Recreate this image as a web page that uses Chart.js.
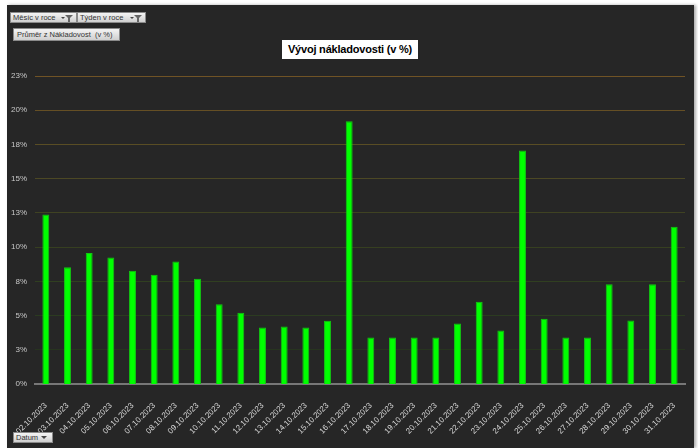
<!DOCTYPE html>
<html>
<head>
<meta charset="utf-8">
<script src="https://cdn.jsdelivr.net/npm/chart.js@4.4.1/dist/chart.umd.min.js"></script>
<style>
  html, body { margin: 0; padding: 0; background: #fff; }
  body { width: 698px; height: 448px; position: relative; overflow: hidden; font-family: "Liberation Sans", Arial, sans-serif; }
  #panel { position: absolute; left: 7px; top: 5px; width: 687px; height: 443px; background: #262626; box-shadow: 2px 0 3px #aaa; }
  #graf { position: absolute; left: 0; top: 0; }
  .btn { position: absolute; box-sizing: border-box; background: linear-gradient(#f4f4f4, #cfcfcf); border: 1px solid #8a8a8a; font-size: 7.5px; color: #333; line-height: 9px; padding-left: 2px; white-space: nowrap; }
  .flt { position: absolute; right: 3px; top: 2px; width: 0; height: 0; border-left: 4px solid transparent; border-right: 4px solid transparent; border-top: 4px solid #666; }
  .flt:after { content: ""; position: absolute; left: -1px; top: -1px; width: 2px; height: 4px; background: #666; }
  .dd { position: absolute; right: 11px; top: 4px; width: 0; height: 0; border-left: 2px solid transparent; border-right: 2px solid transparent; border-top: 2px solid #444; }
  .dd2 { position: absolute; right: 5px; top: 3px; width: 0; height: 0; border-left: 3px solid transparent; border-right: 3px solid transparent; border-top: 3px solid #444; }
  #titulo { position: absolute; left: 282px; top: 40px; width: 136px; height: 19px; background: #fff; color: #000; font-weight: bold; font-size: 11px; line-height: 19px; text-align: center; white-space: nowrap; letter-spacing: -0.2px; font-family: "Liberation Sans", Arial, sans-serif; }
</style>
</head>
<body>
<div id="panel"></div>
<canvas id="graf" width="698" height="448"></canvas>
<div class="btn" style="left:10px;top:12px;width:67px;height:11px;">Měsíc v roce<span class="dd"></span><span class="flt"></span></div>
<div class="btn" style="left:77px;top:12px;width:69px;height:11px;">Týden v roce<span class="dd"></span><span class="flt"></span></div>
<div class="btn" style="left:13px;top:28px;width:107px;height:13px;line-height:11px;padding-left:3px;">Průměr z Nákladovost&nbsp; (v %)</div>
<div class="btn" style="left:13px;top:432px;width:40px;height:11px;">Datum<span class="dd2"></span></div>
<div id="titulo">Vývoj nákladovosti (v %)</div>
<script>
// Datos del gráfico
const fechas = ['02.10.2023', '03.10.2023', '04.10.2023', '05.10.2023', '06.10.2023', '07.10.2023', '08.10.2023', '09.10.2023', '10.10.2023', '11.10.2023',
    '12.10.2023', '13.10.2023', '14.10.2023', '15.10.2023', '16.10.2023', '17.10.2023', '18.10.2023', '19.10.2023', '20.10.2023', '21.10.2023',
    '22.10.2023', '23.10.2023', '24.10.2023', '25.10.2023', '26.10.2023', '27.10.2023', '28.10.2023', '29.10.2023', '30.10.2023', '31.10.2023'];
const nakladovost = [12.38, 8.52, 9.57, 9.25, 8.28, 7.99, 8.94, 7.69, 5.83, 5.20,
    4.12, 4.20, 4.12, 4.62, 19.2, 3.40, 3.40, 3.40, 3.40, 4.42,
    6.01, 3.91, 17.05, 4.77, 3.40, 3.40, 7.28, 4.64, 7.28, 11.48];
const etiquetasY = ['0%', '3%', '5%', '8%', '10%', '13%', '15%', '18%', '20%', '23%'];

// Colores de las líneas de la cuadrícula (de abajo hacia arriba)
const coloresGrid = ['#777777', '#27341f', '#2b3b20', '#303f20', '#363f20', '#3f4222', '#4c4824', '#594d24', '#654f24', '#705325'];

const ctx = document.getElementById('graf').getContext('2d');
new Chart(ctx, {
    type: 'bar',
    data: {
        labels: fechas,
        datasets: [{
            label: 'Průměr z Nákladovost (v %)',
            data: nakladovost,
            backgroundColor: '#00ff00',
            borderColor: '#12c812',
            borderWidth: 1,
            barPercentage: 0.32,
            categoryPercentage: 1
        }]
    },
    options: {
        responsive: false,
        animation: false,
        layout: { padding: { left: 7, right: 13, top: 76, bottom: 4 } },
        plugins: { legend: { display: false }, tooltip: { enabled: false } },
        scales: {
            x: {
                grid: { display: false },
                border: { display: true, color: '#777777', width: 2 },
                ticks: {
                    color: '#d8d8d8',
                    font: { family: 'Liberation Sans', size: 8 },
                    minRotation: 45,
                    maxRotation: 45,
                    autoSkip: false,
                    padding: 9
                },
                afterFit: scale => { scale.height = 60; }
            },
            y: {
                min: 0,
                max: 22.5,
                grid: {
                    drawTicks: false,
                    color: c => coloresGrid[c.index] || '#444',
                    lineWidth: c => c.index === 0 ? 0 : 1
                },
                border: { display: false },
                ticks: {
                    stepSize: 2.5,
                    color: '#c8c8c8',
                    font: { family: 'Liberation Sans', size: 8 },
                    padding: 8,
                    callback: (v, i) => etiquetasY[i]
                },
                afterFit: scale => { scale.width = 28; }
            }
        }
    }
});
</script>
</body>
</html>
